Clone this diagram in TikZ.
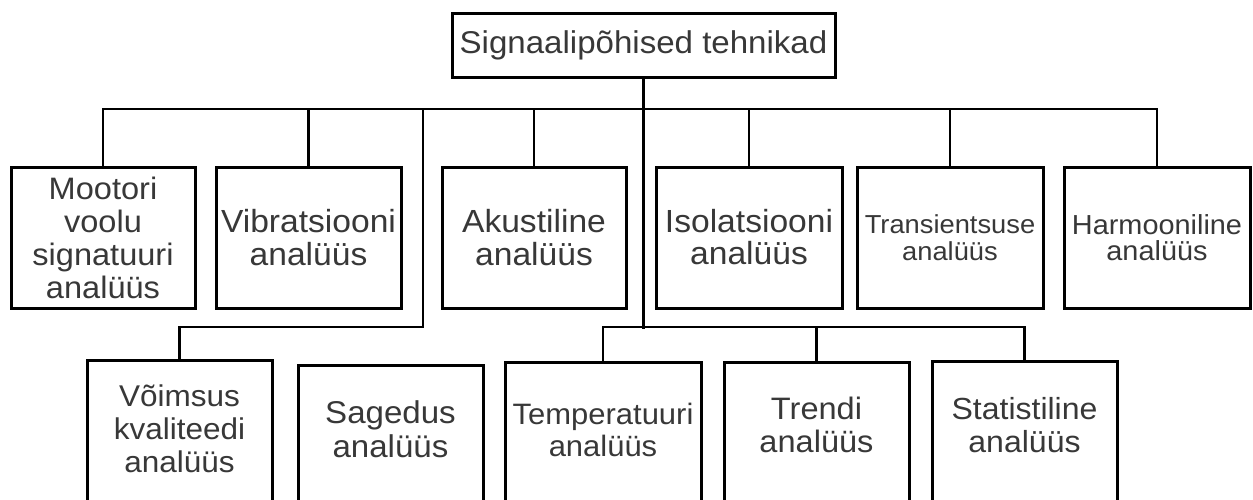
\documentclass[tikz,border=0pt]{standalone}
\usepackage{fontspec}
\newfontfamily\labfont[FakeStretch=1.05]{Liberation Sans}

\tikzset{
  fs/.style 2 args={font=\labfont\fontsize{#1}{#2}\selectfont},
  txt/.style={text=black!78, align=center, inner sep=0pt},
  box/.style={draw=black, line width=3pt, txt, fs={31}{33}},
  topbox/.style={box, minimum width=185pt, minimum height=141pt},
  lowbox/.style={draw=black, line width=3pt, anchor=north, minimum height=170pt, inner sep=0pt},
  lowtext/.style={txt, fs={31}{33}, anchor=center},
  wire/.style={draw=black, line width=2.3pt, line cap=rect},
  trunk/.style={draw=black, line width=3.3pt, line cap=rect}
}

\begin{document}
\begin{tikzpicture}[x=1pt, y=-1pt]
  \useasboundingbox (0,0) rectangle (1253,499);
  \clip (0,0) rectangle (1253,499);
  \fill[white] (0,0) rectangle (1253,499);

  % root
  \node[box, fs={31.5}{34}, minimum width=383pt, minimum height=64pt] (root) at (643.5,45) {Signaalipõhised tehnikad};

  % first level
  \node[topbox, minimum width=184pt] (moot) at (103,237.5) {Mootori\\voolu\\signatuuri\\analüüs};
  \node[topbox, fs={32}{33}] (vib) at (308.5,237.5) {Vibratsiooni\\analüüs};
  \node[topbox, fs={32}{33}, minimum width=184pt] (aku) at (534,237.5) {Akustiline\\analüüs};
  \node[topbox, fs={32}{32}, minimum width=186pt] (iso) at (749,237.5) {Isolatsiooni\\analüüs};
  \node[topbox, fs={26}{26.5}, minimum width=186pt] (trans) at (950,237.5) {Transientsuse\\analüüs};
  \node[topbox, fs={27.5}{26.5}, minimum width=186pt] (harm) at (1157,237.5) {Harmooniline\\analüüs};

  % second level (boxes run past the lower edge)
  \node[lowbox, minimum width=185pt] (voim) at (179.5,359) {};
  \node[lowtext, fs={30}{33}] (voimT) at ([yshift=-69.5pt]voim.north) {Võimsus\\kvaliteedi\\analüüs};
  \node[lowbox, minimum width=185pt] (sag) at (390.5,364) {};
  \node[lowtext, fs={31.5}{34}] (sagT) at ([yshift=-65.5pt]sag.north) {Sagedus\\analüüs};
  \node[lowbox, minimum width=196pt] (temp) at (603,361) {};
  \node[lowtext, fs={29.5}{32}] (tempT) at ([yshift=-69pt]temp.north) {Temperatuuri\\analüüs};
  \node[lowbox, minimum width=185pt] (trend) at (816.5,361) {};
  \node[lowtext] (trendT) at ([yshift=-64pt]trend.north) {Trendi\\analüüs};
  \node[lowbox, minimum width=185pt] (stat) at (1024.5,360) {};
  \node[lowtext, fs={30.5}{33}] (statT) at ([yshift=-65pt]stat.north) {Statistiline\\analüüs};

  % bus lines
  \coordinate (bus) at (0,109);
  \coordinate (bus2) at (0,327);
  \coordinate (split) at (423,109);

  \draw[trunk] (root.south) -- (root.south |- bus2);

  \draw[wire] (moot.north) -- (moot.north |- bus) -- (harm.north |- bus) -- (harm.north);
  \foreach \n in {vib,aku,iso,trans}
    \draw[wire] (\n.north) -- (\n.north |- bus);

  \draw[wire] (split) -- (split |- bus2) -- (voim.north |- bus2) -- (voim.north);

  \draw[wire] (temp.north) -- (temp.north |- bus2) -- (stat.north |- bus2) -- (stat.north);
  \draw[wire] (trend.north) -- (trend.north |- bus2);
\end{tikzpicture}
\end{document}
